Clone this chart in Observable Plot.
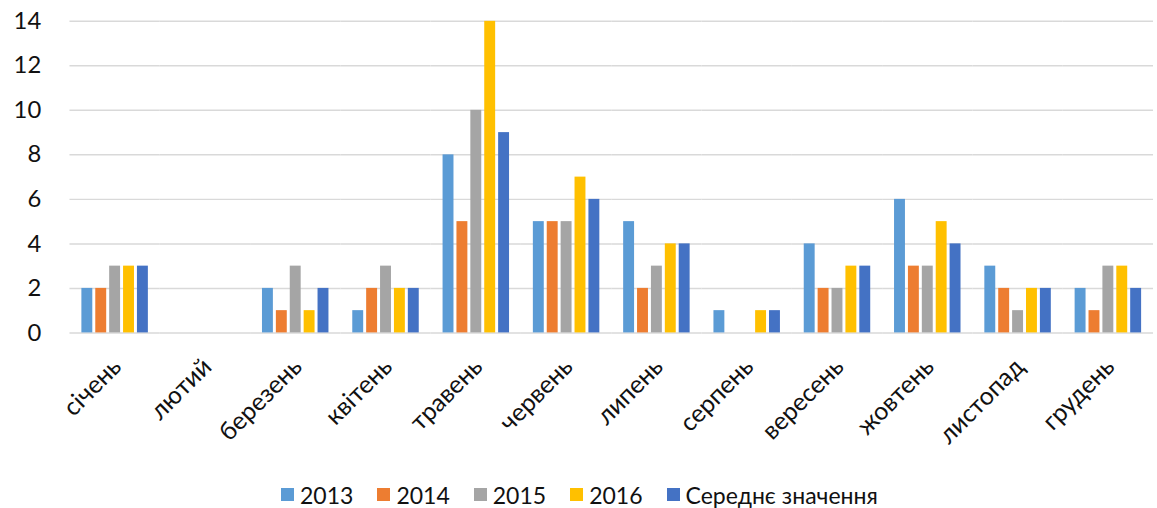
<!DOCTYPE html>
<html><head><meta charset="utf-8">
<script src="https://cdn.jsdelivr.net/npm/d3@7"></script>
<script src="https://cdn.jsdelivr.net/npm/@observablehq/plot@0.6"></script>
<style>
body{margin:0;background:#fff;overflow:hidden;font-family:Lato,sans-serif}
#wrap{position:relative;width:1157px;height:508px;overflow:hidden;background:#fff}
#legend{position:absolute;left:0;top:481px;width:1157px;height:27px;box-sizing:border-box;padding-left:281px;display:flex;justify-content:flex-start;font-size:23px;color:#111;line-height:26px}
.item{display:flex;align-items:center;gap:6px;margin-right:24px}
.sw{width:13px;height:13px;display:inline-block}
</style>
</head><body>
<div id="wrap"><div id="chart"></div><div id="legend"></div></div>
<script>
const months = ["січень","лютий","березень","квітень","травень","червень","липень","серпень","вересень","жовтень","листопад","грудень"];
const series = ["2013","2014","2015","2016","Середнє значення"];
const colors = ["#5B9BD5","#ED7D31","#A5A5A5","#FFC000","#4472C4"];
const v2013 = [2,0,2,1,8,5,5,1,4,6,3,2];
const v2014 = [2,0,1,2,5,5,2,0,2,3,2,1];
const v2015 = [3,0,3,3,10,5,3,0,2,3,1,3];
const v2016 = [3,0,1,2,14,7,4,1,3,5,2,3];
const vAvg  = [3,0,2,2,9,6,4,1,3,4,2,2];
const yTicks = [0,2,4,6,8,10,12,14];

const cols = [v2013,v2014,v2015,v2016,vAvg];
const data = [];
months.forEach((m,i)=>series.forEach((s,j)=>data.push({month:m, series:s, value:cols[j][i]})));

const chart = Plot.plot({
  width:1166, height:474,
  marginLeft:66, marginRight:0, marginTop:21, marginBottom:139,
  style:{fontFamily:"Lato, sans-serif", color:"#111", background:"#fff"},
  fx:{domain:months, padding:0, label:null, axis:null},
  x:{domain:series, paddingInner:0.2, paddingOuter:0.8, axis:null},
  y:{domain:[0,14], label:null, axis:null},
  color:{domain:series, range:colors},
  marks:[
    Plot.gridY(yTicks,{stroke:"#d9d9d9", strokeOpacity:1, strokeWidth:1.5}),
    Plot.barY(data,{fx:"month", x:"series", y:"value", fill:"series"}),
    Plot.axisY(yTicks,{tickSize:0, tickPadding:29, fontSize:24, label:null}),
    Plot.axisFx({anchor:"bottom", tickRotate:-45, tickSize:0, tickPadding:30, dx:2, fontSize:25, label:null})
  ]
});
document.getElementById("chart").appendChild(chart);

const lg = document.getElementById("legend");
series.forEach((s,i)=>{
  const it = document.createElement("div"); it.className="item";
  const sw = document.createElement("span"); sw.className="sw"; sw.style.background=colors[i];
  const t = document.createElement("span"); t.textContent=s;
  it.appendChild(sw); it.appendChild(t); lg.appendChild(it);
});
</script>
</body></html>
